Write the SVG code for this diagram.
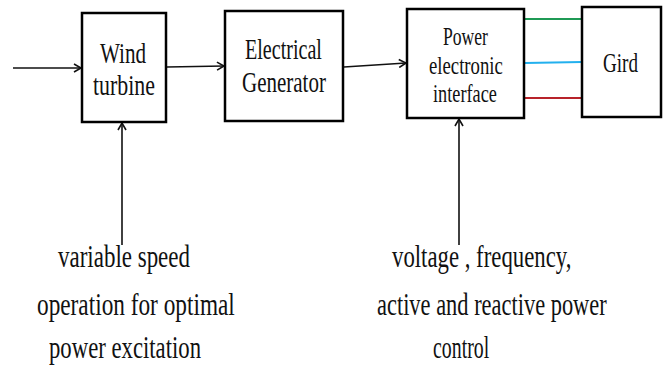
<svg xmlns="http://www.w3.org/2000/svg" width="667" height="365" viewBox="0 0 667 365">
<style>
.box{fill:#fff;stroke:#000;stroke-width:2.5}
.t{font-family:"Liberation Serif",serif;fill:#111;text-anchor:start;font-size:32px}
.b{font-size:30px}
.s{font-size:25px}
.g{font-size:28px}
.conn{stroke:#111;stroke-width:1.6;fill:none}
.phase{stroke-width:2.2;fill:none}
</style>
<defs>
<marker id="arr" markerWidth="10" markerHeight="10" refX="8" refY="5" orient="auto" markerUnits="userSpaceOnUse">
<path d="M1,1 L8,5 L1,9" fill="none" stroke="#111" stroke-width="1.6"/>
</marker>
</defs>
<rect width="667" height="365" fill="#fff"/>
<g id="connectors">
<line class="conn" x1="13" y1="68" x2="81" y2="68" marker-end="url(#arr)"/>
<line class="conn" x1="167" y1="67" x2="224" y2="66" marker-end="url(#arr)"/>
<line class="conn" x1="344" y1="67" x2="406" y2="63" marker-end="url(#arr)"/>
<line class="conn" x1="122" y1="245" x2="122" y2="123" marker-end="url(#arr)"/>
<line class="conn" x1="459" y1="245" x2="459" y2="119" marker-end="url(#arr)"/>
<line class="phase" x1="525" y1="19" x2="582" y2="19" stroke="#1f9a55"/>
<line class="phase" x1="525" y1="63" x2="582" y2="62" stroke="#22b0ee"/>
<line class="phase" x1="525" y1="98" x2="582" y2="98" stroke="#b8232a"/>
</g>
<g id="wind-turbine">
<rect class="box" x="82" y="13" width="84" height="109"/>
<text class="t b" transform="translate(100,63) scale(0.705,1)">Wind</text>
<text class="t b" transform="translate(93,95) scale(0.729,1)">turbine</text>
</g>
<g id="electrical-generator">
<rect class="box" x="225" y="11" width="118" height="110"/>
<text class="t b" transform="translate(245,59) scale(0.67,1)">Electrical</text>
<text class="t b" transform="translate(242,92) scale(0.70,1)">Generator</text>
</g>
<g id="power-electronic-interface">
<rect class="box" x="407" y="9" width="117" height="109"/>
<text class="t s" transform="translate(443,45) scale(0.704,1)">Power</text>
<text class="t s" transform="translate(429,74) scale(0.75,1)">electronic</text>
<text class="t s" transform="translate(433,102) scale(0.731,1)">interface</text>
</g>
<g id="grid">
<rect class="box" x="582" y="7" width="79" height="110"/>
<text class="t g" transform="translate(603,72) scale(0.682,1)">Gird</text>
</g>
<g id="label-left">
<text class="t" transform="translate(58,267) scale(0.718,1)">variable speed</text>
<text class="t" transform="translate(37,315) scale(0.728,1)">operation for optimal</text>
<text class="t" transform="translate(49,358) scale(0.71,1)">power excitation</text>
</g>
<g id="label-right">
<text class="t" transform="translate(392,267) scale(0.712,1)">voltage , frequency,</text>
<text class="t" transform="translate(377,315) scale(0.701,1)">active and reactive power</text>
<text class="t" transform="translate(433,358) scale(0.62,1)">control</text>
</g>
</svg>
